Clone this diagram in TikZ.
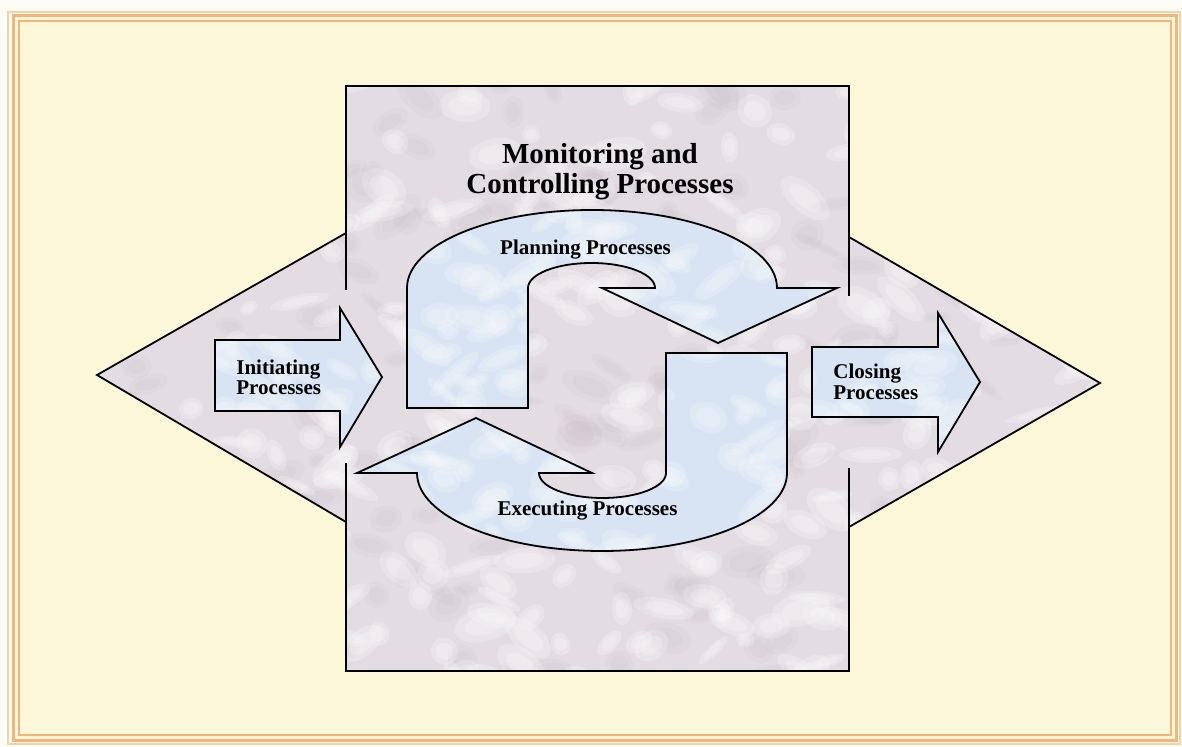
\documentclass[tikz,border=0pt]{standalone}
\usepackage{fontspec}
\setmainfont{Liberation Serif}
\definecolor{paper}{HTML}{FEFDF5}
\definecolor{cream}{HTML}{FDF7DA}
\definecolor{frameor}{HTML}{F3B57E}
\definecolor{framelt}{HTML}{F8D2A6}
\definecolor{marble}{HTML}{E3DDE3}
\definecolor{marbledk}{HTML}{C8BCC8}
\definecolor{skyfill}{HTML}{D8E4F4}
% scatter soft blotches over a rectangle: xmin, xmax, ymin, ymax, count, colour, opacity
\newcommand\mottle[7]{%
  \foreach \k in {1,...,#5}{%
    \pgfmathsetmacro\mx{#1+rnd*(#2-#1)}%
    \pgfmathsetmacro\my{#3+rnd*(#4-#3)}%
    \pgfmathsetmacro\ma{8+rnd*24}%
    \pgfmathsetmacro\mb{5+rnd*12}%
    \pgfmathsetmacro\mr{-45+rnd*90}%
    \begin{scope}[rotate around={\mr:(\mx,\my)}]
      \fill[#6,opacity=#7] (\mx,\my) ellipse[x radius=\ma,y radius=\mb];
      \fill[#6,opacity=#7] (\mx,\my) ellipse[x radius=0.65*\ma,y radius=0.6*\mb];
    \end{scope}
  }}
\tikzset{
  outline/.style={draw=black,line width=0.9pt,line join=miter},
  flow/.style={outline,fill=skyfill},
  boldlbl/.style={font=\bfseries\fontsize{10.5}{10}\selectfont,inner sep=0pt,text=black},
}
\begin{document}
\begin{tikzpicture}[x=0.5pt,y=-0.5pt]
\useasboundingbox (0,0) rectangle (1182,747);
% paper and frame
\fill[paper] (0,0) rectangle (1182,747);
\fill[cream] (13,16) rectangle (1176,740);
\draw[framelt,line width=0.9pt] (8,12) rectangle (1180,744);
\draw[frameor,line width=1.5pt] (13,16) rectangle (1176,740);
\draw[frameor,line width=0.6pt] (19,21) rectangle (1171,735);

% marbled background: wide double-pointed band and the tall box
\fill[marble] (97,375) -- (346,233) -- (849,237) -- (1100,383) -- (849,527) -- (346,522) -- cycle;
\fill[marble] (346,86) rectangle (849,671);
\begin{scope}
  \clip (97,375) -- (346,233) -- (849,237) -- (1100,383) -- (849,527) -- (346,522) -- cycle
        (346,86) -- (849,86) -- (849,671) -- (346,671) -- cycle;
  \pgfmathsetseed{11}
  \mottle{90}{1105}{80}{680}{220}{marbledk}{0.14}
  \mottle{90}{1105}{80}{680}{320}{white}{0.22}
\end{scope}
\draw[outline] (346,233) -- (97,375) -- (346,522);
\draw[outline] (849,237) -- (1100,383) -- (849,527);
\draw[outline] (346,290) -- (346,86) -- (849,86) -- (849,296);
\draw[outline] (849,468) -- (849,671) -- (346,671) -- (346,463);

% straight arrows in and out
\path[flow,path picture={\mottle{210}{390}{300}{455}{40}{white}{0.18}}]
  (215,340) -- (340,340) -- (340,308) -- (382,377) -- (340,447) -- (340,411) -- (215,411) -- cycle;
\path[flow,path picture={\mottle{805}{985}{305}{460}{40}{white}{0.18}}]
  (812,347) -- (938,347) -- (938,313) -- (980,382) -- (938,452) -- (938,417) -- (812,417) -- cycle;

% curved planning arrow (upper)
\path[flow,path picture={\mottle{400}{840}{205}{412}{90}{white}{0.18}}]
  (407,408) -- (407,288) arc[start angle=180,end angle=360,x radius=185,y radius=78]
  -- (837,288) -- (718,343) -- (602,288) -- (655,288)
  arc[start angle=0,end angle=-180,x radius=63.5,y radius=25]
  -- (528,408) -- cycle;

% curved executing arrow (lower)
\path[flow,path picture={\mottle{350}{795}{345}{555}{90}{white}{0.18}}]
  (787,353) -- (787,473) arc[start angle=0,end angle=180,x radius=185,y radius=78]
  -- (357,473) -- (476,418) -- (592,473) -- (539,473)
  arc[start angle=180,end angle=0,x radius=63.5,y radius=25]
  -- (666,353) -- cycle;

% labels
\node[boldlbl,font=\bfseries\fontsize{14.5}{15}\selectfont,align=center,anchor=north]
  (mc) at (600,143) {Monitoring and\\Controlling Processes};
\node[boldlbl,anchor=base] (plan) at (585.5,255) {Planning Processes};
\node[boldlbl,anchor=base] (exec) at (587.5,516) {Executing Processes};
\node[boldlbl,align=left,anchor=north west] (init) at (236,360) {Initiating\\Processes};
\node[boldlbl,font=\bfseries\fontsize{10.5}{10.5}\selectfont,align=left,anchor=north west]
  (close) at (833,364) {Closing\\Processes};
\end{tikzpicture}
\end{document}
